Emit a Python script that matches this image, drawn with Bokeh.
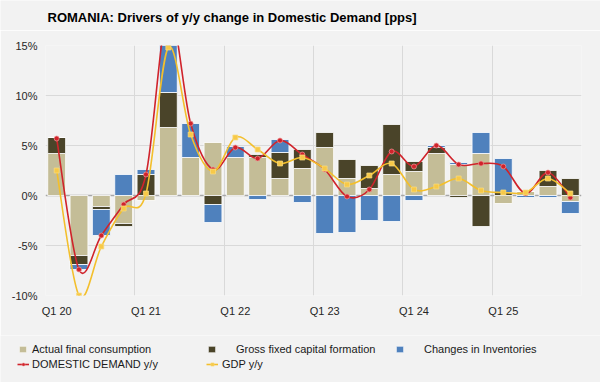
import numpy as np
from bokeh.plotting import figure
from bokeh.layouts import column
from bokeh.models import (ColumnDataSource, FixedTicker, PrintfTickFormatter, Span,
                          Label, Legend, LegendItem, Plot)
from bokeh.embed import file_html
from bokeh.resources import INLINE

# ---------------- data ----------------
quarters = ["Q1 20", "Q2 20", "Q3 20", "Q4 20",
            "Q1 21", "Q2 21", "Q3 21", "Q4 21",
            "Q1 22", "Q2 22", "Q3 22", "Q4 22",
            "Q1 23", "Q2 23", "Q3 23", "Q4 23",
            "Q1 24", "Q2 24", "Q3 24", "Q4 24",
            "Q1 25", "Q2 25", "Q3 25", "Q4 25"]

afc = [4.2, -6.0, -1.1, -2.8, -0.5, 6.8, 3.8, 5.3, 3.8, 3.8, 1.7, 2.7,
       4.8, 1.7, 0.7, 2.1, 2.4, 4.2, 3.1, 4.2, -0.8, 0.4, 0.9, -0.6]
gfcf = [1.6, -0.9, -0.3, -0.3, 2.1, 3.5, 0.0, -0.9, -0.1, 0.3, 2.6, 1.9,
        1.5, 1.9, 2.3, 5.0, 1.0, 0.6, -0.2, -3.1, 0.3, 0.0, 1.6, 1.7]
inventories = [0.0, -0.5, -2.6, 2.1, 0.5, 8.2, 3.4, -1.8, 1.1, -0.4, 1.3, -0.7,
               -3.8, -3.7, -2.5, -2.6, -0.5, 0.2, 0.2, 2.1, 3.4, -0.2, -0.2, -1.2]
domestic_demand = [5.7, -7.4, -4.0, -0.9, 2.1, 18.5, 7.2, 2.6, 4.8, 3.7, 5.5, 4.1,
                   2.6, -0.1, 0.6, 4.4, 2.9, 5.0, 3.1, 3.2, 2.9, 0.2, 2.3, -0.2]
gdp = [2.5, -10.0, -5.1, -1.3, 0.2, 14.8, 6.1, 2.4, 5.8, 4.6, 3.2, 3.8,
       2.7, 1.1, 2.0, 3.2, 0.6, 0.9, 1.7, 0.5, 0.3, 0.3, 1.7, 0.2]

series_names = ["Actual final consumption", "Gross fixed capital formation",
                "Changes in Inventories"]
line_names = ["DOMESTIC DEMAND y/y", "GDP y/y"]
y_ticks = [-10, -5, 0, 5, 10, 15]
title_text = "ROMANIA: Drivers of y/y change in Domestic Demand [pps]"

# ---------------- style ----------------
FONT = "Liberation Sans"
BG = "#f2f2f2"
C_AFC = "#c4bd97"
C_GFCF = "#4a4429"
C_INV = "#4f81bd"
C_DD = "#d0232b"
C_GDP = "#f3bf2c"
GRID = "#d9d9d9"
W = 600

n = len(quarters)
xs = np.arange(n, dtype=float)
NOALIGN = {"frame_align": False} if "frame_align" in Plot.properties() else {}


def blank_figure(height, xr=(0, 1), yr=(0, 1)):
    f = figure(width=W, height=height, output_backend="svg", toolbar_location=None,
               x_axis_location=None, y_axis_location=None,
               min_border_left=0, min_border_right=0, min_border_top=0,
               min_border_bottom=0, background_fill_color=BG, border_fill_color=BG,
               outline_line_color=None, x_range=xr, y_range=yr, **NOALIGN)
    f.grid.visible = False
    return f


# ---------------- title ----------------
t = blank_figure(30)
t.add_layout(Label(x=47, y=13, x_units="screen", y_units="screen", text=title_text,
                   text_font=FONT, text_font_size="13px", text_font_style="bold",
                   text_color="#000000", text_baseline="alphabetic"))

# ---------------- main chart ----------------
p = figure(width=W, height=305, x_range=(-0.5, n - 0.5), y_range=(-10, 15),
           output_backend="svg", toolbar_location=None,
           min_border_left=45, min_border_right=19, min_border_top=15,
           min_border_bottom=40, background_fill_color=BG, border_fill_color=BG,
           outline_line_color=None, **NOALIGN)

p.ygrid.ticker = FixedTicker(ticks=[tk for tk in y_ticks if tk != 0])
p.ygrid.grid_line_color = GRID
p.xgrid.ticker = FixedTicker(ticks=[i - 0.5 for i in range(0, n + 1, 4)])
p.xgrid.grid_line_color = GRID

p.add_layout(Span(location=0, dimension="width", line_color="#a6a6a6",
                  line_width=1.5, level="underlay"))

for ax in (p.xaxis, p.yaxis):
    ax.axis_line_color = None
    ax.major_tick_line_color = None
    ax.minor_tick_line_color = None
    ax.major_tick_out = 0
    ax.minor_tick_out = 0
    ax.major_label_text_font = FONT
    ax.major_label_text_font_size = "11px"
    ax.major_label_text_color = "#262626"

p.yaxis.ticker = FixedTicker(ticks=y_ticks)
p.yaxis.formatter = PrintfTickFormatter(format="%d%%")
p.yaxis.major_label_standoff = 8

q1_idx = [i for i, q in enumerate(quarters) if q.startswith("Q1")]
p.xaxis.ticker = FixedTicker(ticks=q1_idx)
p.xaxis.major_label_overrides = {i: quarters[i] for i in q1_idx}
p.xaxis.major_label_standoff = 9

bar_colors = [C_AFC, C_GFCF, C_INV]
bar_series = [afc, gfcf, inventories]
pos = np.zeros(n)
neg = np.zeros(n)
for vals, color in zip(bar_series, bar_colors):
    v = np.array(vals, dtype=float)
    bottom = np.where(v >= 0, pos, neg)
    top = bottom + v
    pos = np.where(v >= 0, top, pos)
    neg = np.where(v < 0, top, neg)
    src = ColumnDataSource(dict(x=xs, bottom=bottom, top=top))
    p.vbar(x="x", bottom="bottom", top="top", width=0.8, source=src,
           fill_color=color, line_color="white", line_width=0.8)


def smooth_segments(y):
    y = np.array(y, dtype=float)
    x0 = xs[:-1]; x1 = xs[1:]
    y0 = y[:-1]; y1 = y[1:]
    yp = np.concatenate([[y[0]], y[:-2]])
    yn = np.concatenate([y[2:], [y[-1]]])
    xp = np.concatenate([[xs[0]], xs[:-2]])
    xn = np.concatenate([xs[2:], [xs[-1]]])
    return ColumnDataSource(dict(x0=x0, y0=y0, x1=x1, y1=y1,
                                 cx0=x0 + (x1 - xp) / 6.0, cy0=y0 + (y1 - yp) / 6.0,
                                 cx1=x1 - (xn - x0) / 6.0, cy1=y1 - (yn - y0) / 6.0))


line_series = [domestic_demand, gdp]
line_styles = [(C_DD, "circle", C_DD, "#ef9a9a"),
               (C_GDP, "square", "#f7c948", "#f9dc84")]
for vals, (color, marker, mfill, mline) in zip(line_series, line_styles):
    p.bezier(x0="x0", y0="y0", x1="x1", y1="y1", cx0="cx0", cy0="cy0",
             cx1="cx1", cy1="cy1", source=smooth_segments(vals),
             line_color=color, line_width=1.6)
    p.scatter(x="x", y="y",
              source=ColumnDataSource(dict(x=xs, y=np.array(vals, dtype=float))),
              marker=marker, size=5, fill_color=mfill, line_color=mline,
              line_width=0.7)

# ---------------- legend panel ----------------
lg = blank_figure(47)
# hidden copies of the series, used only as legend keys
leg_bars = [lg.vbar(x=xs, top=vals, width=0.8, fill_color=c, line_color="white",
                    line_width=0.6, visible=False)
            for vals, c in zip(bar_series, bar_colors)]
leg_lines = []
for vals, (color, marker, mfill, mline) in zip(line_series, line_styles):
    ln = lg.line(x=xs, y=vals, line_color=color, line_width=1.6, visible=False)
    mk = lg.scatter(x=xs, y=vals, marker=marker, size=4, fill_color=mfill,
                    line_color=mline, line_width=0.5, visible=False)
    leg_lines.append([ln, mk])


def add_legend(label, renderers, loc, gw, gh, standoff):
    L = Legend(items=[LegendItem(label=label, renderers=renderers)],
               location=loc, orientation="horizontal", padding=0, margin=0,
               spacing=0, glyph_width=gw, glyph_height=gh, label_height=12,
               label_standoff=standoff, label_text_font=FONT,
               label_text_font_size="11px", label_text_color="#1a1a1a",
               border_line_color=None, background_fill_alpha=0,
               inactive_fill_alpha=0)
    lg.add_layout(L, "center")


add_legend(series_names[0], [leg_bars[0]], (18, 27), 9, 8, 5)
add_legend(series_names[1], [leg_bars[1]], (207, 27), 9, 8, 20)
add_legend(series_names[2], [leg_bars[2]], (395, 27), 9, 8, 20)
add_legend(line_names[0], leg_lines[0], (17, 12), 12, 8, 3)
add_legend(line_names[1], leg_lines[1], (206, 12), 12, 8, 4)

layout = column(t, p, lg, spacing=0)
open("out.html", "w").write(file_html(layout, INLINE))
